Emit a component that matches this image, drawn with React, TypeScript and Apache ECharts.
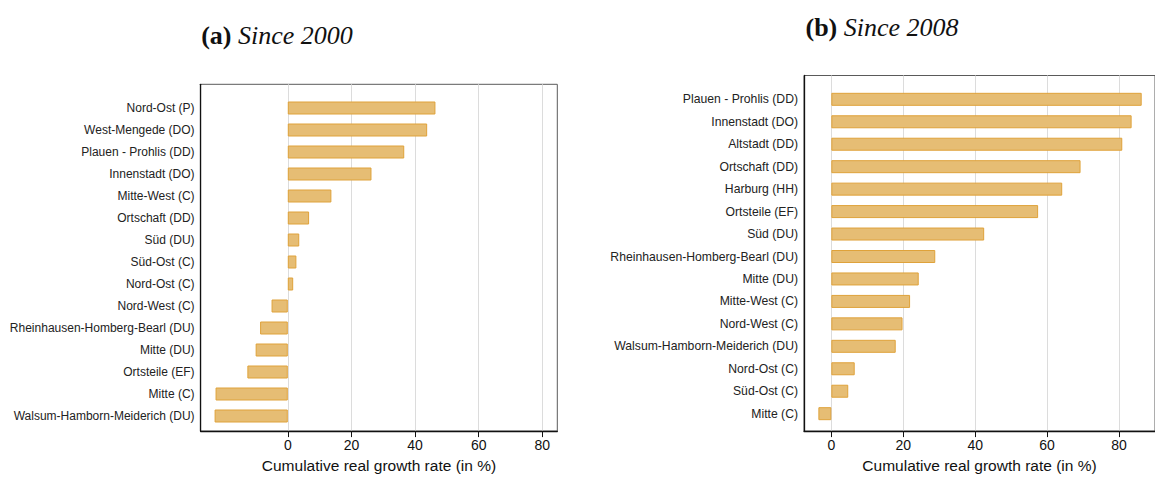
import React, { useEffect, useRef } from 'react';
import * as echarts from 'echarts';

// (a) since 2000
const regionsA = [
  'Nord-Ost (P)',
  'West-Mengede (DO)',
  'Plauen - Prohlis (DD)',
  'Innenstadt (DO)',
  'Mitte-West (C)',
  'Ortschaft (DD)',
  'Süd (DU)',
  'Süd-Ost (C)',
  'Nord-Ost (C)',
  'Nord-West (C)',
  'Rheinhausen-Homberg-Bearl (DU)',
  'Mitte (DU)',
  'Ortsteile (EF)',
  'Mitte (C)',
  'Walsum-Hamborn-Meiderich (DU)'
];
const growthA = [46.4, 43.8, 36.6, 26.3, 13.7, 6.7, 3.6, 2.7, 1.7, -5.1, -8.7, -10.1, -12.7, -22.7, -23.0];

// (b) since 2008
const regionsB = [
  'Plauen - Prohlis (DD)',
  'Innenstadt (DO)',
  'Altstadt (DD)',
  'Ortschaft (DD)',
  'Harburg (HH)',
  'Ortsteile (EF)',
  'Süd (DU)',
  'Rheinhausen-Homberg-Bearl (DU)',
  'Mitte (DU)',
  'Mitte-West (C)',
  'Nord-West (C)',
  'Walsum-Hamborn-Meiderich (DU)',
  'Nord-Ost (C)',
  'Süd-Ost (C)',
  'Mitte (C)'
];
const growthB = [86.3, 83.5, 80.9, 69.3, 64.2, 57.5, 42.5, 28.9, 24.3, 21.9, 19.8, 17.9, 6.5, 4.7, -3.6];

const xTicks = [0, 20, 40, 60, 80];
const axisTitle = 'Cumulative real growth rate (in %)';

const sans = '"Liberation Sans", Arial, sans-serif';
const serif = '"Liberation Serif", "DejaVu Serif", serif';

const panels = [
  {
    regions: regionsA, values: growthA, min: -27.4, max: 84.7,
    left: 200.6, width: 356.7, frameTop: 84.3, frameHeight: 355, plotTop: 97, plotHeight: 330,
    label: '(a)', title: 'Since 2000', titleX: 277, titleY: 35, fontSize: 12
  },
  {
    regions: regionsB, values: growthB, min: -7.6, max: 90,
    left: 804, width: 362.3, frameTop: 75.5, frameHeight: 362.5, plotTop: 88.1, plotHeight: 336.8,
    label: '(b)', title: 'Since 2008', titleX: 882, titleY: 27, fontSize: 12.2
  }
];

const App: React.FC = () => {
  const chartRef = useRef<HTMLDivElement>(null);

  useEffect(() => {
    if (!chartRef.current) return;
    const chart = echarts.init(chartRef.current, undefined, { renderer: 'svg' });

    const grid: any[] = [];
    const xAxis: any[] = [];
    const yAxis: any[] = [];
    const series: any[] = [];
    const graphic: any[] = [];

    panels.forEach((p) => {
      const frameIdx = grid.length;
      // frame grid: box, gridlines, x ticks and title
      grid.push({
        left: p.left, width: p.width, top: p.frameTop, height: p.frameHeight,
        show: true, borderColor: '#5a5a5a', borderWidth: 1, backgroundColor: 'transparent'
      });
      xAxis.push({
        type: 'value', gridIndex: frameIdx, min: p.min, max: p.max,
        axisLine: { show: true, onZero: false, lineStyle: { color: '#111', width: 1.3 } },
        axisTick: { show: true, length: 6, customValues: xTicks, lineStyle: { color: '#111' } },
        axisLabel: { customValues: xTicks, margin: 7, fontSize: 14, color: '#111', fontFamily: sans },
        splitLine: { show: true, lineStyle: { color: '#dcdcdc', width: 1 } },
        name: axisTitle, nameLocation: 'middle', nameGap: 22,
        nameTextStyle: { fontSize: 15.5, color: '#111', fontFamily: sans }
      });
      yAxis.push({
        type: 'value', gridIndex: frameIdx, min: 0, max: 1,
        axisLine: { show: true, onZero: false, lineStyle: { color: '#111', width: 1.3 } },
        axisTick: { show: false }, axisLabel: { show: false }, splitLine: { show: false }
      });

      // data grid, inset so the categories sit off the frame
      const plotIdx = grid.length;
      grid.push({ left: p.left, width: p.width, top: p.plotTop, height: p.plotHeight });
      xAxis.push({ type: 'value', gridIndex: plotIdx, min: p.min, max: p.max, show: false });
      yAxis.push({
        type: 'category', gridIndex: plotIdx, data: p.regions, inverse: true,
        axisLine: { show: false, onZero: false }, axisTick: { show: false },
        axisLabel: { margin: 6, fontSize: p.fontSize, color: '#222', fontFamily: sans }
      });
      series.push({
        type: 'bar', xAxisIndex: plotIdx, yAxisIndex: plotIdx, data: p.values,
        barWidth: 13,
        itemStyle: { color: '#e6bd74', borderColor: '#dfa23a', borderWidth: 1 }
      });

      graphic.push({
        type: 'text', x: p.titleX, y: p.titleY,
        style: {
          text: `{b|${p.label} }{i|${p.title}}`,
          align: 'center', verticalAlign: 'middle',
          rich: {
            b: { fontWeight: 'bold', fontSize: 26, fontFamily: serif, fill: '#111' },
            i: { fontStyle: 'italic', fontSize: 26, fontFamily: serif, fill: '#111' }
          }
        }
      });
    });

    chart.setOption({
      animation: false,
      backgroundColor: '#fff',
      grid, xAxis, yAxis, series, graphic
    });

    const handleResize = () => chart.resize();
    window.addEventListener('resize', handleResize);
    return () => {
      window.removeEventListener('resize', handleResize);
      chart.dispose();
    };
  }, []);

  return (
    <div
      ref={chartRef}
      style={{ position: 'absolute', left: 0, top: 0, width: '1155px', height: '478px' }}
    />
  );
};

export default App;
